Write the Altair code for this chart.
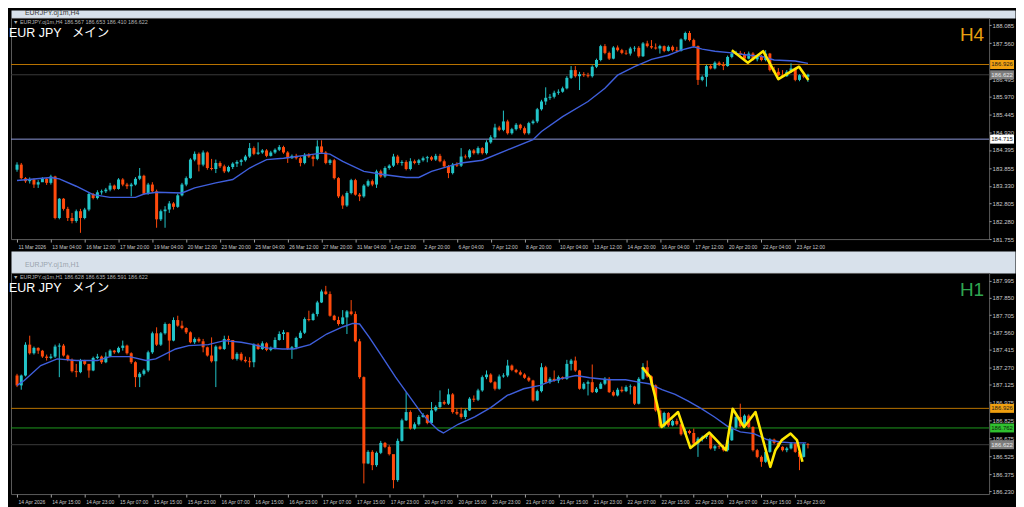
import altair as alt
import pandas as pd

FONT = "Liberation Sans, Noto Sans CJK JP"
SMALL_FONT = "Liberation Sans Narrow, Liberation Sans"

# ---------------- data: H4 panel ----------------
TOP_LABELS = ['11 Mar 2026', '13 Mar 04:00', '16 Mar 12:00', '17 Mar 20:00', '19 Mar 04:00', '20 Mar 12:00',
              '23 Mar 20:00', '25 Mar 04:00', '26 Mar 12:00', '27 Mar 20:00', '31 Mar 04:00', '1 Apr 12:00',
              '2 Apr 20:00', '6 Apr 04:00', '7 Apr 12:00', '8 Apr 20:00', '10 Apr 04:00', '13 Apr 12:00',
              '14 Apr 20:00', '16 Apr 04:00', '17 Apr 12:00', '20 Apr 20:00', '22 Apr 04:00', '23 Apr 12:00']
TOP_TICKS = [181.755, 182.280, 182.805, 183.330, 183.855, 184.395, 184.920, 185.445, 185.970, 186.495,
             187.560, 188.085]
TOP_OPEN0 = 183.81
TOP_CLOSE = [183.96, 183.56, 183.47, 183.52, 183.37, 183.44, 183.54, 183.42, 183.61, 182.38,
             182.95, 182.65, 182.38, 182.29, 182.58, 182.38, 182.63, 183.09, 182.97, 183.14,
             183.17, 183.22, 183.34, 183.24, 183.52, 183.37, 183.32, 183.37, 183.54, 183.63,
             183.10, 183.37, 183.17, 182.34, 182.58, 182.63, 182.81, 182.71, 183.05, 183.37,
             183.56, 184.11, 184.28, 183.96, 184.32, 183.86, 183.83, 184.01, 183.91, 183.76,
             183.89, 183.99, 184.04, 184.09, 184.20, 184.45, 184.28, 184.32, 184.38, 184.22,
             184.32, 184.40, 184.48, 184.32, 184.15, 184.22, 184.15, 184.01, 184.25, 184.20,
             184.13, 184.50, 184.32, 184.01, 184.09, 183.56, 183.02, 182.75, 183.12, 183.50,
             183.07, 183.02, 183.34, 183.47, 183.37, 183.76, 183.61, 183.86, 183.93, 184.20,
             184.01, 184.04, 183.83, 184.06, 184.01, 184.09, 184.15, 184.18, 184.11, 184.22,
             184.06, 183.91, 183.71, 183.96, 183.93, 184.20, 184.18, 184.38, 184.30, 184.45,
             184.30, 184.62, 184.77, 185.06, 184.99, 185.24, 184.89, 185.01, 185.14, 185.04,
             184.89, 185.19, 185.24, 185.60, 185.83, 185.94, 185.97, 186.09, 186.12, 186.22,
             186.53, 186.76, 186.58, 186.64, 186.61, 186.58, 186.86, 187.06, 187.47, 187.27,
             187.10, 187.43, 187.35, 187.27, 187.25, 187.40, 187.42, 187.17, 187.55, 187.47,
             187.43, 187.40, 187.47, 187.33, 187.45, 187.35, 187.33, 187.67, 187.86, 187.65,
             187.47, 186.47, 186.56, 186.88, 186.81, 186.98, 186.91, 186.88, 187.15, 187.25,
             187.27, 187.23, 187.10, 187.25, 187.08, 187.17, 187.06, 187.25, 186.76, 186.71,
             186.61, 186.58, 186.71, 186.81, 186.47, 186.61, 186.567, 186.622]
TOP_HIGH = [184.03, 184.01, 183.59, 183.58, 183.55, 183.50, 183.59, 183.56, 183.66, 183.63,
            182.97, 182.97, 182.71, 182.53, 182.63, 182.65, 182.68, 183.14, 183.12, 183.20,
            183.22, 183.27, 183.42, 183.37, 183.56, 183.56, 183.42, 183.42, 183.59, 183.86,
            183.66, 183.42, 183.44, 183.22, 182.63, 182.73, 182.88, 182.85, 183.10, 183.42,
            183.61, 184.15, 184.35, 184.32, 184.38, 184.35, 184.13, 184.11, 184.06, 183.96,
            183.93, 184.03, 184.09, 184.13, 184.25, 184.60, 184.50, 184.62, 184.42, 184.42,
            184.37, 184.44, 184.54, 184.52, 184.36, 184.26, 184.28, 184.20, 184.30, 184.30,
            184.26, 184.68, 184.68, 184.36, 184.13, 184.13, 183.59, 183.07, 183.17, 183.54,
            183.54, 183.12, 183.38, 183.52, 183.52, 183.81, 183.81, 183.91, 183.97, 184.28,
            184.25, 184.09, 184.09, 184.15, 184.11, 184.13, 184.20, 184.22, 184.22, 184.28,
            184.28, 184.11, 183.95, 184.01, 184.03, 184.45, 184.26, 184.42, 184.42, 184.50,
            184.48, 184.68, 184.83, 185.17, 185.11, 185.56, 185.29, 185.05, 185.19, 185.17,
            185.09, 185.23, 185.29, 185.64, 185.88, 186.25, 186.05, 186.15, 186.19, 186.27,
            186.58, 186.88, 186.88, 186.71, 186.70, 186.68, 186.90, 187.10, 187.51, 187.53,
            187.31, 187.47, 187.49, 187.39, 187.35, 187.45, 187.47, 187.47, 187.59, 187.63,
            187.65, 187.55, 187.51, 187.49, 187.49, 187.49, 187.45, 187.70, 187.90, 187.92,
            187.69, 187.49, 186.60, 186.92, 186.94, 187.02, 187.02, 187.00, 187.19, 187.29,
            187.33, 187.33, 187.29, 187.31, 187.29, 187.21, 187.21, 187.35, 187.27, 186.86,
            186.82, 186.76, 186.76, 186.96, 186.84, 186.64, 186.66, 186.653]
TOP_LOW = [183.75, 183.52, 183.42, 183.40, 183.27, 183.27, 183.47, 183.36, 183.37, 182.34,
           182.34, 182.60, 182.29, 182.22, 182.24, 181.94, 182.34, 182.58, 182.93, 182.93,
           183.07, 183.12, 183.17, 183.20, 183.22, 183.32, 183.24, 183.02, 183.34, 183.50,
           183.06, 183.07, 183.12, 182.09, 182.29, 182.09, 182.53, 182.63, 182.68, 183.02,
           183.32, 183.54, 184.06, 183.76, 183.91, 183.81, 183.79, 183.71, 183.86, 183.71,
           183.73, 183.83, 183.89, 183.93, 184.05, 184.16, 184.24, 184.25, 184.28, 184.18,
           184.20, 184.28, 184.36, 184.28, 184.01, 184.13, 184.11, 183.91, 183.97, 184.16,
           183.91, 184.09, 184.28, 183.97, 183.95, 183.52, 182.97, 182.65, 182.71, 183.08,
           183.04, 182.88, 182.98, 183.30, 183.32, 183.27, 183.57, 183.57, 183.81, 183.89,
           183.96, 183.93, 183.79, 183.79, 183.97, 183.95, 184.05, 184.03, 184.07, 184.07,
           184.03, 183.86, 183.56, 183.67, 183.89, 183.89, 184.14, 184.14, 184.26, 184.26,
           184.26, 184.26, 184.58, 184.73, 184.95, 184.95, 184.85, 184.85, 184.97, 184.99,
           184.85, 184.85, 185.15, 185.19, 185.56, 185.73, 185.88, 185.92, 186.03, 186.09,
           186.19, 186.50, 186.54, 186.17, 186.56, 186.54, 186.54, 186.82, 187.02, 187.23,
           187.06, 187.08, 187.31, 187.23, 187.21, 187.19, 187.31, 187.13, 187.15, 187.43,
           187.39, 187.37, 187.25, 187.29, 187.31, 187.31, 187.29, 187.31, 187.63, 187.61,
           187.43, 186.32, 186.43, 186.27, 186.78, 186.78, 186.88, 186.76, 186.86, 187.11,
           187.21, 187.19, 187.08, 187.08, 187.04, 187.02, 187.02, 187.02, 186.72, 186.68,
           186.58, 186.54, 186.56, 186.68, 186.43, 186.43, 186.52, 186.41]
TOP_MA_X = [0, 8, 10, 14, 18, 22, 28, 30, 33, 39, 42, 47, 51, 55, 59, 63, 72, 74, 77, 82, 87, 92, 95, 98,
            102, 105, 110, 116, 122, 124, 129, 135, 139, 142, 146, 150, 154, 157, 160, 162, 165, 169,
            173, 176, 179, 184, 187]
TOP_MA_Y = [183.49, 183.58, 183.54, 183.32, 183.07, 182.99, 182.99, 183.09, 183.14, 183.12, 183.27,
            183.42, 183.52, 183.86, 184.11, 184.15, 184.30, 184.27, 184.06, 183.76, 183.66, 183.58,
            183.58, 183.76, 183.91, 184.01, 184.09, 184.40, 184.70, 184.94, 185.38, 185.83, 186.22,
            186.61, 186.86, 187.08, 187.20, 187.35, 187.45, 187.38, 187.32, 187.27, 187.20, 187.17,
            187.06, 187.03, 186.96]
TOP_ZZ_X = [169.0, 172.8, 176.4, 180.0, 184.9, 187.1]
TOP_ZZ_Y = [187.35, 186.98, 187.32, 186.49, 186.86, 186.47]
TOP_LEVELS = [186.926, 186.622, 184.715]
TOP_LEVEL_COLORS = ['#b87300', '#3a3a3a', '#8c96d8']
TOP_TAG_BG = ['#f0a010', '#7c7c7c', '#ffffff']
TOP_TAG_FG = ['#1a1a1a', '#e8e8e8', '#1a1a1a']
TOP_HEADER = "\u25bc EURJPY.oj1m,H4  186.567 186.653 186.410 186.622"

# ---------------- data: H1 panel ----------------
BOT_LABELS = ['14 Apr 2026', '14 Apr 15:00', '14 Apr 23:00', '15 Apr 07:00', '15 Apr 15:00', '15 Apr 23:00',
              '16 Apr 07:00', '16 Apr 15:00', '16 Apr 23:00', '17 Apr 07:00', '17 Apr 15:00', '17 Apr 23:00',
              '20 Apr 07:00', '20 Apr 15:00', '20 Apr 23:00', '21 Apr 07:00', '21 Apr 15:00', '21 Apr 23:00',
              '22 Apr 07:00', '22 Apr 15:00', '22 Apr 23:00', '23 Apr 07:00', '23 Apr 15:00', '23 Apr 23:00']
BOT_TICKS = [186.230, 186.375, 186.525, 186.675, 186.825, 186.975, 187.125, 187.270, 187.415, 187.560,
             187.705, 187.850, 187.995]
BOT_OPEN0 = 187.201
BOT_CLOSE = [187.118, 187.201, 187.459, 187.387, 187.432, 187.409, 187.359, 187.348, 187.359, 187.443,
             187.451, 187.368, 187.332, 187.237, 187.229, 187.326, 187.298, 187.243, 187.348, 187.359,
             187.312, 187.359, 187.409, 187.395, 187.432, 187.451, 187.387, 187.312, 187.187, 187.215,
             187.243, 187.395, 187.554, 187.459, 187.554, 187.632, 187.493, 187.665, 187.618, 187.598,
             187.562, 187.479, 187.507, 187.487, 187.437, 187.368, 187.320, 187.443, 187.423, 187.507,
             187.498, 187.340, 187.382, 187.332, 187.320, 187.312, 187.459, 187.423, 187.470, 187.415,
             187.432, 187.498, 187.548, 187.562, 187.423, 187.437, 187.515, 187.559, 187.673, 187.665,
             187.715, 187.812, 187.904, 187.882, 187.701, 187.665, 187.632, 187.687, 187.737, 187.715,
             187.487, 187.187, 186.465, 186.562, 186.451, 186.554, 186.637, 186.604, 186.543, 186.326,
             186.654, 186.826, 186.895, 186.757, 186.793, 186.854, 186.870, 186.804, 186.909, 186.937,
             186.979, 186.965, 187.043, 186.895, 186.882, 186.854, 186.909, 187.007, 186.998, 187.076,
             187.187, 187.209, 187.145, 187.090, 187.193, 187.201, 187.284, 187.248, 187.229, 187.209,
             187.182, 187.159, 186.993, 187.070, 187.270, 187.145, 187.173, 187.159, 187.187, 187.173,
             187.298, 187.326, 187.243, 187.090, 187.132, 187.145, 187.062, 187.090, 187.132, 187.173,
             187.062, 187.034, 187.082, 187.070, 187.104, 187.109, 186.965, 187.173, 187.270, 187.193,
             187.118, 186.909, 186.776, 186.887, 186.784, 186.820, 186.793, 186.709, 186.737, 186.720,
             186.632, 186.673, 186.687, 186.701, 186.591, 186.609, 186.604, 186.576, 186.659, 186.765,
             186.854, 186.776, 186.865, 186.770, 186.576, 186.520, 186.479, 186.562, 186.665, 186.637,
             186.604, 186.576, 186.591, 186.632, 186.562, 186.520, 186.628, 186.622]
BOT_HIGH = [187.215, 187.209, 187.479, 187.534, 187.443, 187.437, 187.415, 187.376, 187.382, 187.459,
            187.470, 187.465, 187.376, 187.343, 187.298, 187.340, 187.332, 187.298, 187.359, 187.382,
            187.368, 187.395, 187.420, 187.415, 187.443, 187.493, 187.459, 187.395, 187.320, 187.229,
            187.257, 187.409, 187.568, 187.604, 187.565, 187.645, 187.637, 187.687, 187.701, 187.659,
            187.604, 187.570, 187.520, 187.520, 187.507, 187.443, 187.520, 187.454, 187.451, 187.534,
            187.534, 187.451, 187.395, 187.395, 187.359, 187.354, 187.470, 187.470, 187.487, 187.479,
            187.443, 187.520, 187.570, 187.582, 187.562, 187.448, 187.526, 187.576, 187.687, 187.743,
            187.726, 187.826, 187.920, 187.951, 187.904, 187.709, 187.693, 187.748, 187.748, 187.832,
            187.737, 187.507, 187.193, 186.576, 186.576, 186.565, 186.654, 186.645, 186.618, 186.409,
            186.673, 186.840, 187.062, 186.909, 186.809, 186.868, 186.887, 186.876, 186.979, 186.951,
            187.076, 186.993, 187.090, 187.054, 186.923, 186.932, 186.920, 187.020, 187.034, 187.090,
            187.201, 187.243, 187.220, 187.154, 187.209, 187.220, 187.332, 187.293, 187.257, 187.243,
            187.220, 187.193, 187.165, 187.082, 187.304, 187.282, 187.187, 187.243, 187.201, 187.193,
            187.332, 187.340, 187.359, 187.248, 187.145, 187.159, 187.293, 187.104, 187.145, 187.187,
            187.187, 187.076, 187.098, 187.109, 187.118, 187.126, 187.115, 187.187, 187.304, 187.326,
            187.201, 187.126, 186.923, 186.898, 186.895, 186.832, 186.840, 186.798, 186.757, 186.748,
            186.757, 186.687, 186.698, 186.715, 186.704, 186.620, 186.626, 186.620, 186.670, 186.776,
            186.868, 186.965, 186.876, 186.876, 186.776, 186.587, 186.532, 186.576, 186.676, 186.673,
            186.654, 186.609, 186.604, 186.643, 186.637, 186.570, 186.637, 186.635]
BOT_LOW = [187.104, 187.082, 187.193, 187.376, 187.376, 187.382, 187.348, 187.326, 187.337, 187.348,
           187.187, 187.359, 187.320, 187.226, 187.187, 187.220, 187.287, 187.182, 187.237, 187.337,
           187.298, 187.304, 187.354, 187.382, 187.387, 187.409, 187.376, 187.298, 187.104, 187.104,
           187.201, 187.229, 187.382, 187.448, 187.448, 187.543, 187.326, 187.487, 187.609, 187.587,
           187.548, 187.470, 187.465, 187.476, 187.395, 187.359, 187.309, 187.104, 187.415, 187.415,
           187.459, 187.332, 187.326, 187.320, 187.309, 187.270, 187.270, 187.415, 187.415, 187.404,
           187.404, 187.420, 187.493, 187.498, 187.415, 187.340, 187.420, 187.509, 187.548, 187.654,
           187.659, 187.695, 187.807, 187.876, 187.693, 187.659, 187.618, 187.626, 187.548, 187.704,
           187.479, 187.173, 186.298, 186.459, 186.409, 186.437, 186.543, 186.593, 186.532, 186.257,
           186.312, 186.648, 186.820, 186.748, 186.748, 186.782, 186.848, 186.793, 186.798, 186.898,
           186.926, 186.954, 186.954, 186.882, 186.870, 186.840, 186.837, 186.904, 186.979, 186.987,
           187.065, 187.170, 187.137, 187.076, 187.082, 187.182, 187.187, 187.237, 187.220, 187.201,
           187.173, 187.148, 186.982, 186.987, 187.059, 187.137, 187.132, 187.148, 187.137, 187.165,
           187.165, 187.243, 187.232, 187.082, 187.082, 187.034, 187.054, 187.054, 187.087, 187.120,
           187.054, 187.026, 187.026, 187.059, 187.062, 187.043, 186.954, 186.959, 187.165, 187.182,
           187.109, 186.898, 186.765, 186.765, 186.770, 186.776, 186.782, 186.698, 186.709, 186.709,
           186.618, 186.520, 186.648, 186.670, 186.582, 186.570, 186.587, 186.565, 186.565, 186.654,
           186.754, 186.765, 186.765, 186.759, 186.565, 186.509, 186.437, 186.470, 186.554, 186.626,
           186.593, 186.565, 186.559, 186.582, 186.554, 186.409, 186.515, 186.591]
BOT_MA_X = [0, 1.7, 5.6, 9.5, 14, 19, 22, 26.6, 30.5, 32.8, 37.5, 40.6, 45.2, 49, 53, 56, 59, 62.7, 65.4,
            69.3, 73.2, 77.1, 79.4, 81, 83.3, 86.4, 89.5, 92.6, 95.7, 98, 99.6, 100.8, 101.9, 104.3,
            108.2, 112, 115.9, 119.8, 123.7, 125.6, 128.4, 132.2, 135.4, 140, 143.9, 147, 149.4, 152.5,
            155.6, 158.7, 161.8, 164.9, 168, 171, 174.2, 177.3, 180.4, 183.5, 186.6]
BOT_MA_Y = [187.118, 187.159, 187.284, 187.340, 187.326, 187.326, 187.359, 187.359, 187.326, 187.340,
            187.423, 187.451, 187.459, 187.493, 187.479, 187.459, 187.432, 187.423, 187.423, 187.459,
            187.548, 187.609, 187.637, 187.632, 187.520, 187.354, 187.187, 187.034, 186.882, 186.798,
            186.743, 186.720, 186.743, 186.793, 186.854, 186.932, 187.034, 187.090, 187.118, 187.145,
            187.173, 187.201, 187.182, 187.165, 187.165, 187.145, 187.132, 187.082, 187.043, 186.987,
            186.923, 186.854, 186.776, 186.729, 186.715, 186.665, 186.645, 186.637, 186.637]
BOT_ZZ_X = [147.8, 149.7, 151.3, 152.4, 156.3, 159.2, 163.7, 167.6, 169.2, 171.9, 174.6, 178.1, 179.3,
            180.8, 182.9, 184.4, 185.7]
BOT_ZZ_Y = [187.27, 187.19, 186.965, 186.77, 186.895, 186.595, 186.723, 186.576, 186.923, 186.77,
            186.895, 186.437, 186.576, 186.66, 186.715, 186.66, 186.479]
BOT_LEVELS = [186.926, 186.762, 186.622]
BOT_LEVEL_COLORS = ['#b87300', '#1e9a1e', '#3a3a3a']
BOT_TAG_BG = ['#f0a010', '#2fc02f', '#7c7c7c']
BOT_TAG_FG = ['#1a1a1a', '#0a1a0a', '#e8e8e8']
BOT_HEADER = "\u25bc EURJPY.oj1m,H1  186.628 186.635 186.591 186.622"

# ---------------- layout ----------------
W = 982
H = 222
STEP = 4.29
XDOM = [-0.25, -0.25 + W / STEP]
UP, DOWN = '#22c4c8', '#ff4a0c'


def candle_frame(open0, closes, highs, lows):
    opens = [open0] + closes[:-1]
    return pd.DataFrame({
        'i': list(range(len(closes))), 'o': opens, 'c': closes, 'h': highs, 'l': lows,
        'dir': ['up' if c >= o else 'down' for o, c in zip(opens, closes)],
    })


def panel(df, ma_x, ma_y, zz_x, zz_y, levels, lcolors, tag_bg, tag_fg, ydom, yticks,
          xlabels, header, tf, tf_color):
    xs = alt.Scale(domain=XDOM, nice=False, zero=False)
    ys = alt.Scale(domain=ydom, nice=False, zero=False)
    expr = "[" + ",".join("'%s'" % s for s in xlabels) + "][round(datum.value / 8)]"
    xaxis = alt.Axis(values=[8 * k for k in range(len(xlabels))], labelExpr=expr, labelAlign='left',
                     labelFontSize=5, labelColor='#c8c8c8', labelPadding=2, tickSize=3,
                     tickColor='#a0a0a0', domain=False, grid=False, labelOverlap=False,
                     labelFont=SMALL_FONT, labelOffset=1, title=None)
    yaxis = alt.Axis(orient='right', values=yticks, format='.3f', labelFontSize=6,
                     labelColor='#c8c8c8', labelPadding=1, tickSize=2, tickColor='#a0a0a0',
                     domain=False, grid=False, labelOverlap=False, labelFont=FONT, title=None)
    dircol = alt.Color('dir:N', scale=alt.Scale(domain=['up', 'down'], range=[UP, DOWN]), legend=None)

    def X(f):
        return alt.X(f, scale=xs, axis=xaxis, title=None)

    def Y(f):
        return alt.Y(f, scale=ys, axis=yaxis, title=None)

    lev = pd.DataFrame({'p': levels, 'col': lcolors, 'bg': tag_bg, 'fg': tag_fg,
                        'lab': ['%.3f' % v for v in levels]})
    rules = alt.Chart(lev).mark_rule(strokeWidth=1).encode(
        y=Y('p:Q'), color=alt.Color('col:N', scale=None))

    base = alt.Chart(df)
    wick = base.mark_rule(strokeWidth=1, clip=True).encode(
        x=X('i:Q'), y=Y('l:Q'), y2='h:Q', color=dircol)
    body = base.mark_bar(size=3, clip=True).encode(
        x=X('i:Q'), y=Y('o:Q'), y2='c:Q', color=dircol)

    ma = alt.Chart(pd.DataFrame({'x': ma_x, 'y': ma_y})).mark_line(
        color='#3f5fdc', strokeWidth=1.4, clip=True).encode(x=X('x:Q'), y=Y('y:Q'))
    zz = alt.Chart(pd.DataFrame({'x': zz_x, 'y': zz_y})).mark_line(
        color='#ffe800', strokeWidth=2.6, clip=True, strokeJoin='round').encode(x=X('x:Q'), y=Y('y:Q'))

    tag_box = alt.Chart(lev).mark_point(
        shape='M-2,-0.75H2V0.75H-2Z', size=144, filled=True, opacity=1, clip=False).encode(
        x=alt.value(W + 13), y=Y('p:Q'), fill=alt.Fill('bg:N', scale=None))
    tag_txt = alt.Chart(lev).mark_text(fontSize=6, font=FONT, align='center', baseline='middle',
                                       clip=False).encode(
        x=alt.value(W + 13), y=Y('p:Q'), text='lab:N', color=alt.Color('fg:N', scale=None))

    head = alt.Chart(pd.DataFrame({'t': [header]})).mark_text(
        fontSize=5.5, font=FONT, color='#b4b4b4', align='left', baseline='middle').encode(
        x=alt.value(2), y=alt.value(4.5), text='t:N')
    sym = alt.Chart(pd.DataFrame({'t': ['EUR JPY\u00a0\u00a0\u00a0メイン']})).mark_text(
        fontSize=12.5, font=FONT, color='#ffffff', align='left', baseline='middle').encode(
        x=alt.value(-2), y=alt.value(15), text='t:N')
    tfl = alt.Chart(pd.DataFrame({'t': [tf]})).mark_text(
        fontSize=19, font=FONT, color=tf_color, align='right', baseline='middle').encode(
        x=alt.value(W - 5), y=alt.value(17), text='t:N')

    return alt.layer(rules, wick, body, ma, zz, head, sym, tfl, tag_box, tag_txt).properties(
        width=W, height=H, view=alt.ViewBackground(fill='#000000', stroke='#5c5c5c', strokeWidth=1))


def strip(text, h, ty, fill, color):
    return alt.Chart(pd.DataFrame({'t': [text]})).mark_text(
        fontSize=7, font=FONT, color=color, align='left', baseline='middle').encode(
        x=alt.value(14), y=alt.value(ty), text='t:N').properties(
        width=1008, height=h, view=alt.ViewBackground(fill=fill, stroke='transparent'))


top_df = candle_frame(TOP_OPEN0, TOP_CLOSE, TOP_HIGH, TOP_LOW)
bot_df = candle_frame(BOT_OPEN0, BOT_CLOSE, BOT_HIGH, BOT_LOW)

top = panel(top_df, TOP_MA_X, TOP_MA_Y, TOP_ZZ_X, TOP_ZZ_Y, TOP_LEVELS, TOP_LEVEL_COLORS,
            TOP_TAG_BG, TOP_TAG_FG, [181.755, 188.305], TOP_TICKS, TOP_LABELS, TOP_HEADER,
            'H4', '#e9a010')
bot = panel(bot_df, BOT_MA_X, BOT_MA_Y, BOT_ZZ_X, BOT_ZZ_Y, BOT_LEVELS, BOT_LEVEL_COLORS,
            BOT_TAG_BG, BOT_TAG_FG, [186.209, 188.059], BOT_TICKS, BOT_LABELS, BOT_HEADER,
            'H1', '#2fa550')

chart = alt.vconcat(
    strip('EURJPY.oj1m,H4', 8, 3.5, '#d8e1eb', '#3a3a3a'),
    top,
    strip('', 12, 6, 'transparent', '#000000'),
    strip('EURJPY.oj1m,H1', 22, 14, '#d8e1eb', '#9aa4ae'),
    bot,
    strip('', 11, 6, 'transparent', '#000000'),
    spacing=0,
    bounds='flush',
).properties(padding=0, background='#000000')

chart.save('out.html', embed_options={'renderer': 'svg', 'actions': False})
